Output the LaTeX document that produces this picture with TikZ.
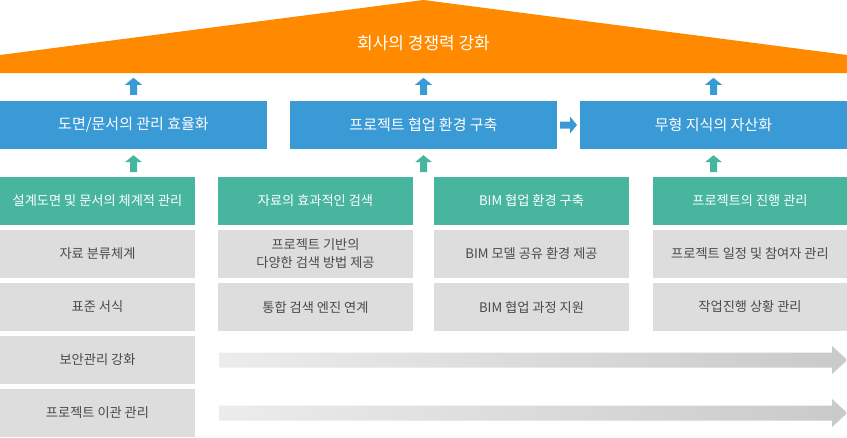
\documentclass[tikz,border=0pt]{standalone}
\usepackage{fontspec}
\setmainfont{Noto Sans CJK KR}
\usetikzlibrary{calc}
\definecolor{roofc}{HTML}{FF8A00}
\definecolor{bluec}{HTML}{3A9AD5}
\definecolor{greenc}{HTML}{48B59E}
\definecolor{grayc}{HTML}{DDDDDD}
\definecolor{textc}{HTML}{4A4A4A}
\begin{document}
\begin{tikzpicture}[x=1pt,y=-1pt,line cap=round,line join=round,
	bluebox/.style={fill=bluec,text=white,minimum width=267pt,minimum height=48pt,inner sep=0pt,font=\fontsize{15}{18}\selectfont},
	greenbox/.style={fill=greenc,text=white,minimum height=48pt,inner sep=0pt,font=\fontsize{13.2}{16}\selectfont},
	graybox/.style={fill=grayc,text=textc,minimum height=48pt,inner sep=0pt,align=center,font=\fontsize{13.2}{18}\selectfont},
	upblock/.pic={\fill (0,-8.5)--(8.5,-1.5)--(3.5,-1.5)--(3.5,8.5)--(-3.5,8.5)--(-3.5,-1.5)--(-8.5,-1.5)--cycle;}]
		\useasboundingbox (0,0) rectangle (847,437);
		\fill [roofc] (0,73)--(0,55)--(423.5,0)--(847,55)--(847,73)--cycle;
		\node [text=white,font=\fontsize{17}{20}\selectfont] (roof) at (423.5,43) {회사의 경쟁력 강화};
		\node [bluebox] (b1) at (133.5,125) {도면/문서의 관리 효율화};
		\node [bluebox] (b2) at (423.5,125) {프로젝트 협업 환경 구축};
		\node [bluebox] (b3) at (713.5,125) {무형 지식의 자산화};
		\node [greenbox,minimum width=195pt] (g1) at (97.5,201) {설계도면 및 문서의 체계적 관리};
		\node [greenbox,minimum width=195pt] (g2) at (315.5,201) {자료의 효과적인 검색};
		\node [greenbox,minimum width=195pt] (g3) at (531.5,201) {BIM 협업 환경 구축};
		\node [greenbox,minimum width=194pt] (g4) at (750,201) {프로젝트의 진행 관리};
		\node [graybox,minimum width=195pt] (r11) at (97.5,254) {자료 분류체계};
		\node [graybox,minimum width=195pt] (r12) at (315.5,254) {프로젝트 기반의\\다양한 검색 방법 제공};
		\node [graybox,minimum width=195pt] (r13) at (531.5,254) {BIM 모델 공유 환경 제공};
		\node [graybox,minimum width=194pt] (r14) at (750,254) {프로젝트 일정 및 참여자 관리};
		\node [graybox,minimum width=195pt] (r21) at (97.5,307) {표준 서식};
		\node [graybox,minimum width=195pt] (r22) at (315.5,307) {통합 검색 엔진 연계};
		\node [graybox,minimum width=195pt] (r23) at (531.5,307) {BIM 협업 과정 지원};
		\node [graybox,minimum width=194pt] (r24) at (750,307) {작업진행 상황 관리};
		\node [graybox,minimum width=195pt] (r31) at (97.5,360) {보안관리 강화};
		\node [graybox,minimum width=195pt] (r41) at (97.5,413) {프로젝트 이관 관리};
		\foreach \b in {b1,b2,b3} {
			\path [fill=bluec] (\b.north) ++(0,-14.5) pic {upblock};
			\path [fill=greenc] (\b.south) ++(0,14.5) pic {upblock};
		}
		\path [fill=bluec] ($(b2.east)!0.5!(b3.west)$) pic [rotate=-90] {upblock};
		\foreach \r in {r31,r41} {
			\coordinate (s) at ($(\r.east)+(24,0)$);
			\shade [left color=gray!15,right color=gray!42] ($(s)+(0,-7.5)$)--($(s)+(613,-7.5)$)--($(s)+(613,-14)$)--($(s)+(628,0)$)--($(s)+(613,14)$)--($(s)+(613,7.5)$)--($(s)+(0,7.5)$)--cycle;
		}
	\end{tikzpicture}
\end{document}
